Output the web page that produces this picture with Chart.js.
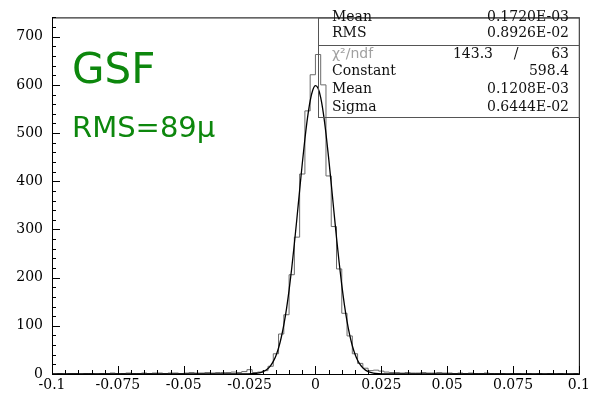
<!DOCTYPE html>
<html>
<head>
<meta charset="utf-8">
<script src="https://cdn.jsdelivr.net/npm/chart.js@4/dist/chart.umd.min.js"></script>
<style>
  body { margin: 0; background: #fff; }
  canvas { display: block; }
</style>
</head>
<body>
<canvas id="chart" width="593" height="396"></canvas>
<script>
// Residual histogram (100 bins from -0.1 to 0.1) with gaussian fit

// binning
const binMin = -0.1;
const binWidth = 0.002;

// counts per bin
const counts = [
  0, 1, 0, 1, 1, 0, 1, 1, 0, 1,
  1, 2, 1, 1, 2, 1, 1, 2, 1, 2,
  2, 1, 2, 2, 1, 2, 3, 2, 2, 3,
  2, 3, 3, 3, 4, 3, 5, 9, 3, 4,
  7, 16, 42, 83, 123, 206, 284, 415, 546, 621,
  663, 600, 411, 306, 218, 126, 79, 42, 22, 12,
  7, 8, 6, 4, 3, 3, 2, 3, 2, 2,
  3, 2, 2, 3, 2, 2, 1, 2, 1, 2,
  1, 1, 2, 1, 1, 1, 0, 1, 1, 0,
  1, 0, 1, 0, 1, 0, 1, 0, 0, 1
];

// fitted curve, points
const fitX = [
  -0.1, -0.03, -0.028, -0.026, -0.024, -0.022, -0.02, -0.019, -0.018, -0.017,
  -0.016, -0.015, -0.014, -0.013, -0.012, -0.011, -0.01, -0.009, -0.008, -0.007,
  -0.006, -0.005, -0.004, -0.003, -0.002, -0.001, 0, 0.001, 0.002, 0.003,
  0.004, 0.005, 0.006, 0.007, 0.008, 0.009, 0.01, 0.011, 0.012, 0.013,
  0.014, 0.015, 0.016, 0.017, 0.018, 0.019, 0.02, 0.022, 0.024, 0.026,
  0.028, 0.03, 0.1
];
const fitY = [
  0, 0, 0.04, 0.2, 0.5, 1.6, 4.5, 7.3, 11.4, 17.5,
  26.1, 38.0, 54.0, 75.2, 101.9, 134.7, 174.2, 219.5, 270.2, 324.8,
  381.0, 436.2, 487.7, 532.1, 566.9, 589.4, 598.3, 592.8, 573.5, 541.4,
  499.0, 449.0, 394.5, 338.2, 283.0, 231.3, 184.4, 143.6, 109.2, 81.0,
  58.6, 41.5, 28.6, 19.3, 12.7, 8.1, 5.1, 1.9, 0.6, 0.2,
  0.05, 0, 0
];

// stats box contents
const statTopLabels = ['Mean', 'RMS'];
const statTopValues = ['0.1720E-03', '0.8926E-02'];
const chiLabel = 'χ²/ndf';
const chiValue = '143.3';
const ndfValue = '63';
const fitLabels = ['Constant', 'Mean', 'Sigma'];
const fitValues = ['598.4', '0.1208E-03', '0.6444E-02'];

// annotations
const titleText = 'GSF';
const rmsText = 'RMS=89μ';

// axis ranges
const xMin = -0.1, xMax = 0.1, xStep = 0.025, xMinorStep = 0.005;
const yMin = 0, yMax = 740, yStep = 100, yMinorStep = 20;

// build histogram as step line through the bin edges
const histPoints = counts.map((c, i) => ({ x: binMin + i * binWidth, y: c }));
histPoints.push({ x: binMin + counts.length * binWidth, y: counts[counts.length - 1] });

const fitPoints = fitX.map((x, i) => ({ x: x, y: fitY[i] }));

const serif = '"DejaVu Serif", "Liberation Serif", serif';

// frame and inside ticks, ROOT style
const frameTicks = {
  id: 'frameTicks',
  afterDatasetsDraw(chart) {
    const { ctx, chartArea: a, scales: { x, y } } = chart;
    ctx.save();
    ctx.strokeStyle = '#000';
    ctx.lineWidth = 1;
    ctx.strokeRect(a.left + 0.5, a.top + 0.5, a.right - a.left, a.bottom - a.top);
    ctx.beginPath();
    const nx = Math.round((xMax - xMin) / xMinorStep);
    for (let i = 0; i <= nx; i++) {
      const px = Math.round(x.getPixelForValue(xMin + i * xMinorStep)) + 0.5;
      const len = i % 5 === 0 ? 8 : 4;
      ctx.moveTo(px, a.bottom);
      ctx.lineTo(px, a.bottom - len);
    }
    const ny = Math.floor((yMax - yMin) / yMinorStep);
    for (let i = 0; i <= ny; i++) {
      const py = Math.round(y.getPixelForValue(yMin + i * yMinorStep)) + 0.5;
      const len = i % 5 === 0 ? 8 : 4;
      ctx.moveTo(a.left, py);
      ctx.lineTo(a.left + len, py);
    }
    ctx.stroke();
    ctx.restore();
  }
};

// stats box and green labels
const overlay = {
  id: 'overlay',
  afterDraw(chart) {
    const { ctx, chartArea: a } = chart;
    const left = 318.5, right = a.right + 0.5;
    const top = a.top + 0.5, mid = 45.5, bottom = 117.5;
    const textX = 332, valX = 569;

    ctx.save();
    ctx.strokeStyle = '#555';
    ctx.lineWidth = 1;
    ctx.strokeRect(left, top, right - left, mid - top);
    ctx.strokeRect(left, mid, right - left, bottom - mid);

    ctx.font = '14px ' + serif;
    ctx.textBaseline = 'middle';
    ctx.fillStyle = '#111';
    const topRows = [17, 33];
    statTopLabels.forEach((l, i) => {
      ctx.textAlign = 'left';
      ctx.fillText(l, textX, topRows[i]);
      ctx.textAlign = 'right';
      ctx.fillText(statTopValues[i], valX, topRows[i]);
    });

    // chi2 row
    ctx.textAlign = 'left';
    ctx.fillStyle = '#a0a0a0';
    ctx.font = '14px "DejaVu Sans", sans-serif';
    ctx.fillText(chiLabel, textX, 54);
    ctx.font = '14px ' + serif;
    ctx.fillStyle = '#111';
    ctx.textAlign = 'right';
    ctx.fillText(chiValue, 493, 54);
    ctx.textAlign = 'center';
    ctx.fillText('/', 516, 54);
    ctx.textAlign = 'right';
    ctx.fillText(ndfValue, valX, 54);

    const fitRows = [71, 89, 107];
    fitLabels.forEach((l, i) => {
      ctx.textAlign = 'left';
      ctx.fillText(l, textX, fitRows[i]);
      ctx.textAlign = 'right';
      ctx.fillText(fitValues[i], valX, fitRows[i]);
    });

    // green annotation
    ctx.fillStyle = '#0d870d';
    ctx.textAlign = 'left';
    ctx.textBaseline = 'alphabetic';
    ctx.font = '42px "DejaVu Sans", sans-serif';
    ctx.fillText(titleText, 72, 83);
    ctx.font = '29px "DejaVu Sans", sans-serif';
    ctx.fillText(rmsText, 72, 137);
    ctx.restore();
  }
};

new Chart(document.getElementById('chart'), {
  type: 'scatter',
  data: {
    datasets: [
      {
        label: 'fit',
        data: fitPoints,
        showLine: true,
        borderColor: '#000',
        borderWidth: 1.3,
        pointRadius: 0,
        cubicInterpolationMode: 'monotone',
        order: 0
      },
      {
        label: 'hist',
        data: histPoints,
        showLine: true,
        stepped: 'before',
        borderColor: '#6a6a6a',
        borderWidth: 1,
        pointRadius: 0,
        order: 1
      }
    ]
  },
  options: {
    responsive: false,
    animation: false,
    devicePixelRatio: 1,
    layout: { padding: { top: 8, right: 9, left: 0, bottom: 0 } },
    plugins: {
      legend: { display: false },
      tooltip: { enabled: false }
    },
    scales: {
      x: {
        type: 'linear',
        min: xMin,
        max: xMax,
        afterFit: (s) => { s.height = 22; },
        grid: { display: false, drawTicks: false },
        border: { display: false },
        ticks: {
          stepSize: xStep,
          includeBounds: false,
          padding: 3,
          color: '#000',
          maxRotation: 0,
          autoSkip: false,
          font: { family: serif, size: 14 },
          callback: (v) => String(Math.round(v * 1000) / 1000)
        }
      },
      y: {
        type: 'linear',
        min: yMin,
        max: yMax,
        afterFit: (s) => { s.width = 52; },
        grid: { display: false, drawTicks: false },
        border: { display: false },
        ticks: {
          stepSize: yStep,
          includeBounds: false,
          padding: 9,
          color: '#000',
          font: { family: serif, size: 14 }
        }
      }
    }
  },
  plugins: [frameTicks, overlay]
});
</script>
</body>
</html>
